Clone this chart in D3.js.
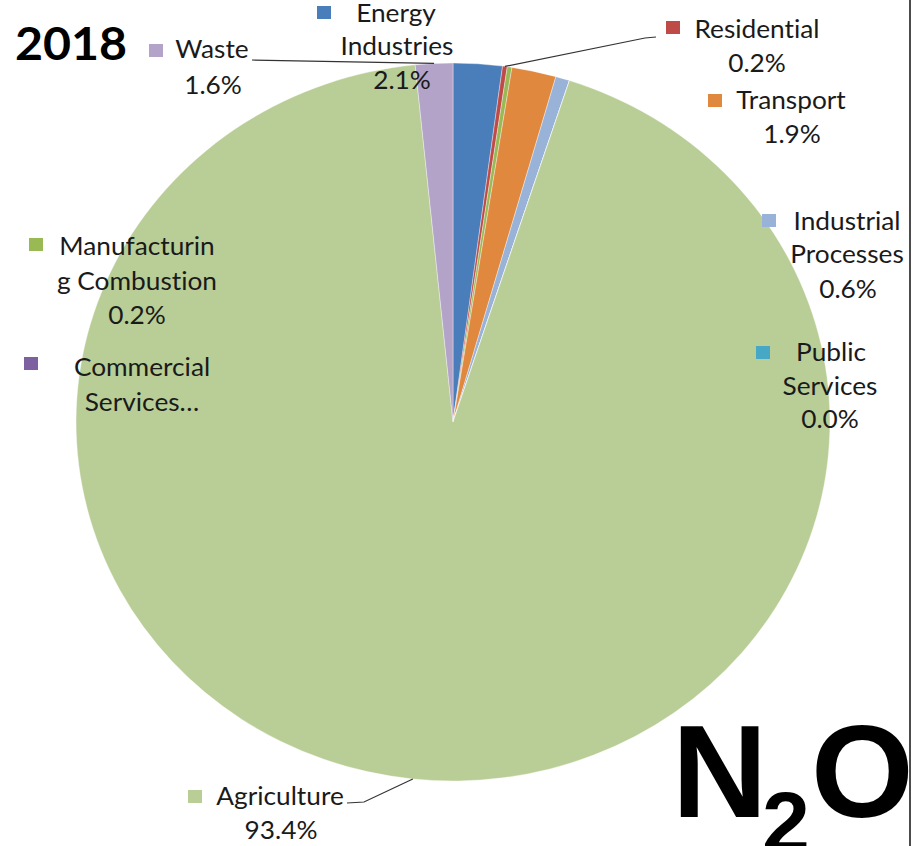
<!DOCTYPE html>
<html>
<head>
<meta charset="utf-8">
<script src="https://cdn.jsdelivr.net/npm/d3@7"></script>
<style>
  html, body { margin: 0; padding: 0; background: #fff; }
  svg { display: block; }
  text.lbl, text.year { font-family: Lato, "Open Sans", sans-serif; fill: #1a1a1a; font-variant-ligatures: none; }
  text.gas { font-family: "Liberation Sans", Arial, sans-serif; font-weight: 700; fill: #000; }
</style>
</head>
<body>
<svg id="chart" width="924" height="846"></svg>
<script>
// N2O emissions by source sector, 2018 (share of total, %)
const categories = ["Energy Industries", "Residential", "Manufacturing Combustion", "Transport",
  "Industrial Processes", "Public Services", "Commercial Services", "Agriculture", "Waste"];
const shares = [2.1, 0.2, 0.2, 1.9, 0.6, 0.0, 0.0, 93.4, 1.6];
const colors = ["#4a7ebb", "#be4b48", "#98b954", "#e0883e", "#98b2d8", "#46a8c4", "#7d60a0", "#b9cd96", "#b3a3c8"];

// label text lines as printed next to each slice (last line is the percentage unless truncated)
const labelNames = [
  ["Energy", "Industries"],
  ["Residential"],
  ["Manufacturin", "g Combustion"],
  ["Transport"],
  ["Industrial", "Processes"],
  ["Public", "Services"],
  ["Commercial", "Services…"],
  ["Agriculture"],
  ["Waste"]
];
const showPercent = [true, true, true, true, true, true, false, true, true];

// label placement: legend square (top-left) and line centres
const labelLayout = [
  { sq: [317, 6],   lines: [[396, 13], [397, 46], [402, 80]] },
  { sq: [666, 21],  lines: [[757, 29], [757, 63]] },
  { sq: [29, 238],  lines: [[137, 246], [137, 281], [137, 315]] },
  { sq: [708, 94],  lines: [[791, 100], [792, 134]] },
  { sq: [762, 214], lines: [[847, 221], [847, 254], [848, 289]] },
  { sq: [756, 346], lines: [[831, 352], [830, 386], [830, 419]] },
  { sq: [24, 357],  lines: [[142, 367], [142, 402]] },
  { sq: [188, 790], lines: [[280, 796], [281, 830]] },
  { sq: [149, 44],  lines: [[212, 49], [213, 85]] }
];

// leader lines: index -> bend and end points
const leaders = [
  { i: 1, pts: [[645, 38], [656, 37]] },
  { i: 7, pts: [[364, 802], [347, 803]] },
  { i: 8, pts: [[252, 60]] }
];

const data = categories.map((c, i) => ({ name: c, value: shares[i], color: colors[i] }));

const svg = d3.select("#chart");
svg.append("rect").attr("width", 924).attr("height", 846).attr("fill", "#fff");

const cx = 453, cy = 422, r = 359, sx = 1.05;

const pie = d3.pie().value(d => d.value).sort(null);
const arcs = pie(data);
const arc = d3.arc().innerRadius(0).outerRadius(r);

const g = svg.append("g").attr("transform", `translate(${cx},${cy}) scale(${sx},1)`);
g.selectAll("path.slice")
  .data(arcs)
  .join("path")
  .attr("class", "slice")
  .attr("d", arc)
  .attr("fill", d => d.data.color)
  .attr("stroke", "#fff")
  .attr("stroke-width", 0.6)
  .attr("stroke-opacity", 0.6);

// leader lines from slice edge midpoints
const line = d3.line();
leaders.forEach(l => {
  const a = arcs[l.i];
  const mid = (a.startAngle + a.endAngle) / 2;
  const start = [cx + sx * r * Math.sin(mid), cy - r * Math.cos(mid)];
  svg.append("path")
    .attr("d", line([start, ...l.pts]))
    .attr("fill", "none")
    .attr("stroke", "#333")
    .attr("stroke-width", 1.2);
});

const fmt = d3.format(".1f");
const fs = 25;
data.forEach((d, i) => {
  const lay = labelLayout[i];
  svg.append("rect")
    .attr("x", lay.sq[0]).attr("y", lay.sq[1])
    .attr("width", 14).attr("height", 13)
    .attr("fill", d.color);
  const texts = labelNames[i].slice();
  if (showPercent[i]) texts.push(fmt(d.value) + "%");
  texts.forEach((t, k) => {
    const [x, y] = lay.lines[k];
    svg.append("text")
      .attr("class", "lbl")
      .attr("transform", `translate(${x},${y}) scale(${sx},1)`)
      .attr("text-anchor", "middle")
      .attr("dy", "0.36em")
      .attr("font-size", fs)
      .text(t);
  });
});

// year heading
svg.append("text")
  .attr("class", "year")
  .attr("transform", `translate(15,60) scale(${sx},1)`)
  .attr("font-size", 46)
  .attr("font-weight", 700)
  .style("fill", "#000")
  .text("2018");

// gas label
const gas = svg.append("text")
  .attr("class", "gas")
  .attr("y", 817)
  .attr("font-size", 132);
gas.append("tspan").attr("x", 672).text("N");
gas.append("tspan").attr("x", 762).attr("font-size", 86).attr("dy", 35).text("2");
gas.append("tspan").attr("x", 811).attr("dy", -35).text("O");

// right frame edge
svg.append("line")
  .attr("x1", 910).attr("x2", 910).attr("y1", 0).attr("y2", 846)
  .attr("stroke", "#111").attr("stroke-width", 1.5);
</script>
</body>
</html>
